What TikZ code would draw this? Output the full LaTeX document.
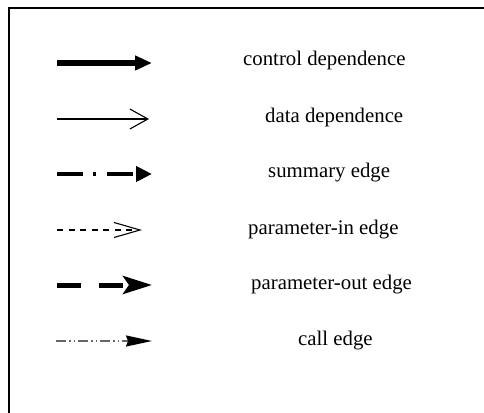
\documentclass[tikz,border=0pt]{standalone}
\usepackage{fontspec}
\setmainfont{Liberation Serif}
\usetikzlibrary{arrows.meta}
\begin{document}
\begin{tikzpicture}[x=1pt,y=-1pt,
  lbl/.style={anchor=base west,inner sep=0pt,font=\fontsize{20.8}{24}\selectfont},
  ctrl/.style={line width=5.5pt,-{Triangle[length=17pt,width=14pt]}},
  datadep/.style={line width=1.1pt,-{Straight Barb[length=18pt,width=20pt,line width=1.1pt]}},
  summ/.style={line width=4pt,dash pattern=on 26pt off 10pt on 3pt off 11pt,-{Triangle[length=16pt,width=15pt]}},
  pin/.style={line width=1.1pt,dash pattern=on 6pt off 5.5pt,-{Straight Barb[length=26pt,width=15pt,line width=1.1pt]}},
  pout/.style={line width=5pt,dash pattern=on 24pt off 18pt,-{Stealth[length=29pt,width=18pt,inset=6pt]}},
  calle/.style={line width=1.6pt,draw=black!60,dash pattern=on 10pt off 3pt on 1.5pt off 3pt on 1.5pt off 3pt,-{Stealth[length=26pt,width=11pt,inset=2pt,black]}}
]
\useasboundingbox (0,0) rectangle (484,412);
\draw[line width=2pt] (9,420) -- (9,8) -- (490,8);

\coordinate (s1) at (57,63);  \coordinate (e1) at (152,63);
\coordinate (s2) at (57,119); \coordinate (e2) at (149,119);
\coordinate (s3) at (57,174); \coordinate (e3) at (152,174);
\coordinate (s4) at (57,230); \coordinate (e4) at (142,230);
\coordinate (s5) at (57,285); \coordinate (e5) at (152,285);
\coordinate (s6) at (56,341); \coordinate (e6) at (152,341);

\draw[ctrl] (s1) -- (e1);
\draw[datadep] (s2) -- (e2);
\draw[summ] (s3) -- (e3);
\draw[pin] (s4) -- (e4);
\draw[pout] (s5) -- (e5);
\draw[calle] (s6) -- (e6);

\node[lbl] (t1) at (243,65) {control dependence};
\node[lbl] (t2) at (265,122) {data dependence};
\node[lbl] (t3) at (268,177) {summary edge};
\node[lbl] (t4) at (248,234) {parameter-in edge};
\node[lbl] (t5) at (251,289) {parameter-out edge};
\node[lbl] (t6) at (298,345) {call edge};
\end{tikzpicture}
\end{document}
